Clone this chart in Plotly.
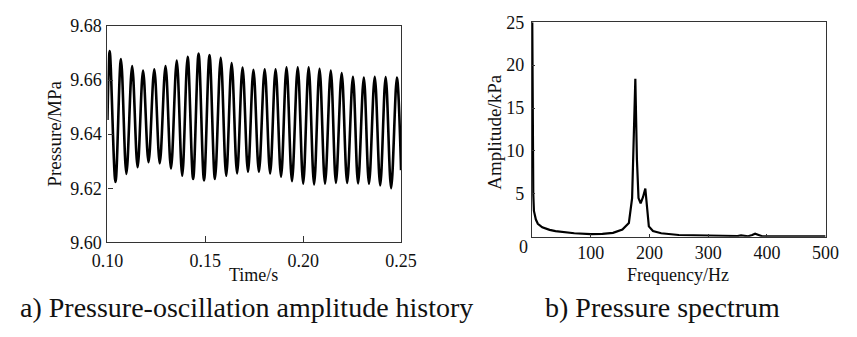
import plotly.graph_objects as go

W, H = 857, 337

# ---- Data: pressure history (extrema) ----
time_s = [0.10000, 0.10115, 0.10410, 0.10689, 0.10967, 0.11262, 0.11541, 0.11820, 0.12098,
          0.12393, 0.12672, 0.12967, 0.13246, 0.13541, 0.13820, 0.14098, 0.14377, 0.14656,
          0.14934, 0.15213, 0.15492, 0.15787, 0.16066, 0.16344, 0.16623, 0.16902, 0.17180,
          0.17459, 0.17738, 0.18033, 0.18311, 0.18590, 0.18869, 0.19148, 0.19426, 0.19721,
          0.20000, 0.20279, 0.20557, 0.20836, 0.21115, 0.21410, 0.21672, 0.21967, 0.22246,
          0.22541, 0.22803, 0.23098, 0.23361, 0.23656, 0.23934, 0.24213, 0.24492, 0.24787,
          0.25000]
pressure_mpa = [9.6452, 9.6707, 9.6223, 9.6678, 9.6253, 9.6652, 9.6278, 9.6635, 9.6296,
                9.6640, 9.6292, 9.6652, 9.6273, 9.6672, 9.6246, 9.6686, 9.6234, 9.6698,
                9.6229, 9.6693, 9.6234, 9.6682, 9.6246, 9.6663, 9.6255, 9.6646, 9.6261,
                9.6638, 9.6261, 9.6640, 9.6255, 9.6640, 9.6243, 9.6647, 9.6226, 9.6647,
                9.6217, 9.6647, 9.6214, 9.6642, 9.6217, 9.6635, 9.6220, 9.6626, 9.6220,
                9.6612, 9.6218, 9.6609, 9.6217, 9.6612, 9.6211, 9.6611, 9.6200, 9.6609,
                9.6267]

# ---- Data: pressure spectrum ----
freq_hz = [0.5, 1.5, 2.2, 3.3, 6.6, 10, 17.5, 30, 40, 72, 100, 120, 138, 154, 165, 170.5,
           173, 176, 178.7, 181.4, 185, 189, 193, 196, 199, 206, 220, 250, 300, 350, 356,
           362, 368, 375, 380, 386, 392, 430, 460, 470, 500]
amp_kpa = [25, 9, 5, 3.0, 2.0, 1.5, 1.1, 0.8, 0.65, 0.4, 0.3, 0.33, 0.45, 0.84, 1.6, 4.5,
           11.8, 18.4, 9.0, 4.5, 3.9, 4.6, 5.6, 3.5, 1.2, 0.66, 0.4, 0.2, 0.1, 0.08, 0.15,
           0.08, 0.05, 0.2, 0.35, 0.2, 0.05, 0.05, 0.1, 0.05, 0.05]

x1_ticks = [0.10, 0.15, 0.20, 0.25]
x1_labels = ["0.10", "0.15", "0.20", "0.25"]
y1_ticks = [9.60, 9.62, 9.64, 9.66, 9.68]
y1_labels = ["9.60", "9.62", "9.64", "9.66", "9.68"]
x2_ticks = [100, 200, 300, 400, 500]
y2_ticks = [5, 10, 15, 20, 25]

FONT = "Times New Roman, Liberation Serif, DejaVu Serif, serif"
TXT = "#111111"
AX = "#333333"


def px(x):
    return x / W


def py(y):
    return 1 - y / H


fig = go.Figure()
fig.add_trace(go.Scatter(x=time_s, y=pressure_mpa, mode="lines",
                         line=dict(color="black", width=2.6, shape="spline", smoothing=1.0),
                         xaxis="x", yaxis="y", showlegend=False))
fig.add_trace(go.Scatter(x=freq_hz, y=amp_kpa, mode="lines",
                         line=dict(color="black", width=2.2),
                         xaxis="x2", yaxis="y2", showlegend=False))

axis_common = dict(showline=True, mirror=True, linecolor=AX, linewidth=1.3,
                   showgrid=False, zeroline=False, ticks="inside", tickcolor=AX,
                   tickfont=dict(family=FONT, size=18, color=TXT))

fig.update_layout(
    width=W, height=H,
    margin=dict(l=0, r=0, t=0, b=0),
    paper_bgcolor="white", plot_bgcolor="white",
    font=dict(family=FONT),
    xaxis=dict(domain=[px(95), px(400)], range=[0.10, 0.25], anchor="y",
               tickvals=x1_ticks, ticktext=x1_labels, ticklen=6, ticklabelstandoff=2,
               **axis_common),
    yaxis=dict(domain=[py(247), py(17)], range=[9.60, 9.68], anchor="x",
               tickvals=y1_ticks, ticktext=y1_labels, ticklen=5, ticklabelstandoff=1,
               **axis_common),
    xaxis2=dict(domain=[px(536), px(841)], range=[0, 500], anchor="y2",
                tickvals=x2_ticks, ticklen=3, ticklabelstandoff=0, **axis_common),
    yaxis2=dict(domain=[py(241), py(13)], range=[0, 25], anchor="x2",
                tickvals=y2_ticks, ticklen=3, ticklabelstandoff=3, **axis_common),
)

ann = []


def add_text(text, x, y, size, angle=0):
    ann.append(dict(text=text, x=px(x), y=py(y), xref="paper", yref="paper",
                    xanchor="center", yanchor="middle", showarrow=False, textangle=angle,
                    font=dict(family=FONT, size=size, color=TXT)))


add_text("Time/s", 247, 282, 18)
add_text("Frequency/Hz", 688, 282, 18)
add_text("Pressure/MPa", 40, 132, 19, -90)
add_text("Amplitude/kPa", 497, 129, 19, -90)
add_text("0", 527, 252, 18)
add_text("a) Pressure-oscillation amplitude history", 239, 316, 28)
add_text("b) Pressure spectrum", 672, 316, 28)
fig.update_layout(annotations=ann)

fig.write_html("out.html")
